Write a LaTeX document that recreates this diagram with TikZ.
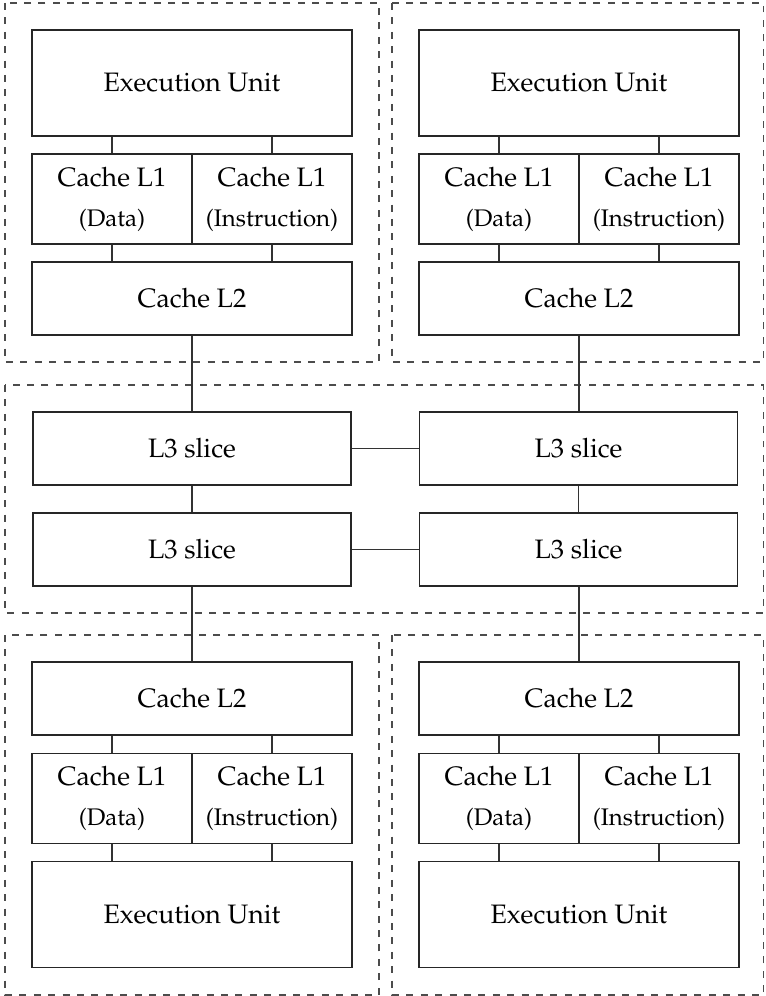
\documentclass[tikz,border=0pt]{standalone}
\usepackage[T1]{fontenc}
\usepackage{mathpazo}
\newcommand\subtxt[1]{{\fontsize{9}{10}\selectfont #1}}
\begin{document}
\begin{tikzpicture}[x=0.375pt,y=-0.375pt,
  blk/.style={draw=black!85, line width=0.45pt, inner sep=0pt, align=center, font=\fontsize{10}{12}\selectfont},
  eu/.style={blk, minimum width=120pt, minimum height=39.75pt},
  lone/.style={blk, minimum width=60pt, minimum height=33.75pt, font=\fontsize{10}{15}\selectfont},
  ltwo/.style={blk, minimum width=120pt, minimum height=27.4pt},
  lthree/.style={blk, minimum width=119.3pt, minimum height=27.4pt},
  grp/.style={draw=black!70, dash pattern=on 2.6pt off 2.8pt, line width=0.45pt},
  wire/.style={draw=black!80, line width=0.45pt}]
\useasboundingbox (0,0) rectangle (765,996);
% group frames
\draw[grp] (5,3) rectangle (379,362);
\draw[grp] (392,3) rectangle (763.5,362);
\draw[grp] (5,385) rectangle (763.5,613);
\draw[grp] (5,635) rectangle (379,995);
\draw[grp] (392,635) rectangle (763.5,995);
% top-left core
\node[eu] (euA) at (192,83) {Execution Unit};
\node[lone] (ldA) at (112,199) {Cache L1\\[0pt]\subtxt{(Data)}};
\node[lone] (liA) at (272,199) {Cache L1\\[0pt]\subtxt{(Instruction)}};
\node[ltwo] (ltA) at (192,298.5) {Cache L2};
% top-right core
\node[eu] (euB) at (579,83) {Execution Unit};
\node[lone] (ldB) at (499,199) {Cache L1\\[0pt]\subtxt{(Data)}};
\node[lone] (liB) at (659,199) {Cache L1\\[0pt]\subtxt{(Instruction)}};
\node[ltwo] (ltB) at (579,298.5) {Cache L2};
% L3 slices
\node[lthree] (sA) at (192,448.5) {L3 slice};
\node[lthree] (sB) at (578.5,448.5) {L3 slice};
\node[lthree] (sC) at (192,549.5) {L3 slice};
\node[lthree] (sD) at (578.5,549.5) {L3 slice};
% bottom-left core
\node[ltwo] (ltC) at (192,698.5) {Cache L2};
\node[lone] (ldC) at (112,798.5) {Cache L1\\[0pt]\subtxt{(Data)}};
\node[lone] (liC) at (272,798.5) {Cache L1\\[0pt]\subtxt{(Instruction)}};
\node[eu] (euC) at (192,914.5) {Execution Unit};
% bottom-right core
\node[ltwo] (ltD) at (579,698.5) {Cache L2};
\node[lone] (ldD) at (499,798.5) {Cache L1\\[0pt]\subtxt{(Data)}};
\node[lone] (liD) at (659,798.5) {Cache L1\\[0pt]\subtxt{(Instruction)}};
\node[eu] (euD) at (579,914.5) {Execution Unit};
% connectors top cores
\draw[wire] (euA.south -| ldA) -- (ldA.north);
\draw[wire] (euA.south -| liA) -- (liA.north);
\draw[wire] (ldA.south) -- (ltA.north -| ldA);
\draw[wire] (liA.south) -- (ltA.north -| liA);
\draw[wire] (euB.south -| ldB) -- (ldB.north);
\draw[wire] (euB.south -| liB) -- (liB.north);
\draw[wire] (ldB.south) -- (ltB.north -| ldB);
\draw[wire] (liB.south) -- (ltB.north -| liB);
% L2 to L3
\draw[wire] (ltA.south) -- (sA.north -| ltA);
\draw[wire] (ltB.south) -- (sB.north -| ltB);
\draw[wire] (sA.east) -- (sB.west);
\draw[wire] (sC.east) -- (sD.west);
\draw[wire] (sA.south) -- (sC.north);
\draw[wire] (sB.south) -- (sD.north);
\draw[wire] (sC.south -| ltC) -- (ltC.north);
\draw[wire] (sD.south -| ltD) -- (ltD.north);
% connectors bottom cores
\draw[wire] (ltC.south -| ldC) -- (ldC.north);
\draw[wire] (ltC.south -| liC) -- (liC.north);
\draw[wire] (ldC.south) -- (euC.north -| ldC);
\draw[wire] (liC.south) -- (euC.north -| liC);
\draw[wire] (ltD.south -| ldD) -- (ldD.north);
\draw[wire] (ltD.south -| liD) -- (liD.north);
\draw[wire] (ldD.south) -- (euD.north -| ldD);
\draw[wire] (liD.south) -- (euD.north -| liD);
\end{tikzpicture}
\end{document}
